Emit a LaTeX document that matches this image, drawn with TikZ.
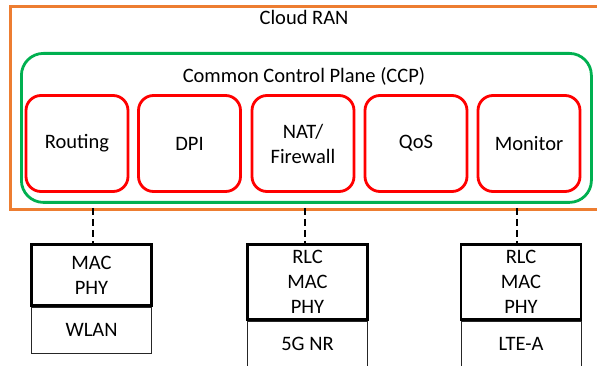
\documentclass[tikz,border=0pt]{standalone}
\usepackage{fontspec}
\setmainfont{Carlito}
\definecolor{ranorange}{HTML}{ED7D31}
\definecolor{ccpgreen}{HTML}{00B050}
\definecolor{fnred}{HTML}{FF0000}
\tikzset{
  lbl/.style={font=\fontsize{20.5}{25}\selectfont, align=center, inner sep=0pt},
  cloudframe/.style={draw=ranorange, line width=3pt, inner sep=0pt},
  ccpframe/.style={draw=ccpgreen, line width=2.8pt, rounded corners=22pt, inner sep=0pt},
  fnbox/.style={lbl, draw=fnred, line width=2.8pt, rounded corners=15pt,
    minimum width=102pt, minimum height=96pt},
  stackbox/.style={lbl, draw=black, line width=2.8pt, minimum width=120pt},
  techbox/.style={lbl, draw=black!85, line width=0.9pt, minimum width=120pt, minimum height=46pt},
  link/.style={dashed, dash pattern=on 7pt off 4pt, line width=2pt, black}
}
\begin{document}
\begin{tikzpicture}[x=1pt, y=-1pt]
\useasboundingbox (0,0) rectangle (597,366);
\fill[white] (0,0) rectangle (597,366);

% Cloud RAN frame (runs past the right border)
\node[cloudframe, minimum width=597pt, minimum height=203pt, anchor=north west] (cloud) at (8.5,5) {};
\node[lbl] (cloudlbl) at (304,17) {Cloud RAN};

% Common control plane
\node[ccpframe, minimum width=570pt, minimum height=149pt, anchor=north west] (ccp) at (20,52) {};
\node[lbl] (ccplbl) at (304,76) {Common Control Plane (CCP)};

% Control-plane functions
\node[fnbox] (routing) at (77,143.5) {Routing};
\node[fnbox] (dpi) at (189.5,143.5) {DPI};
\node[fnbox] (nat) at (303,143.5) {NAT/\\Firewall};
\node[fnbox] (qos) at (416,143.5) {QoS};
\node[fnbox] (monitor) at (529,143.5) {Monitor};

% Radio access stacks
\node[stackbox, minimum height=61pt, anchor=north] (wlanstack) at (91.5,243) {MAC\\PHY};
\node[techbox, anchor=north] (wlan) at (wlanstack.south) {WLAN};

\node[stackbox, minimum height=75pt, anchor=north] (nrstack) at (307.5,243) {RLC\\MAC\\PHY};
\node[techbox, anchor=north] (nr) at (nrstack.south) {5G NR};

\node[stackbox, minimum height=75pt, anchor=north] (ltestack) at (521,243) {RLC\\MAC\\PHY};
\node[techbox, anchor=north] (lte) at (ltestack.south) {LTE-A};

% Links to the cloud
\coordinate (l1) at (92.5,208);
\coordinate (l2) at (304.5,208);
\coordinate (l3) at (516.5,208);
\draw[link] (l1) -- (l1 |- wlanstack.north);
\draw[link] (l2) -- (l2 |- nrstack.north);
\draw[link] (l3) -- (l3 |- ltestack.north);
\end{tikzpicture}
\end{document}
